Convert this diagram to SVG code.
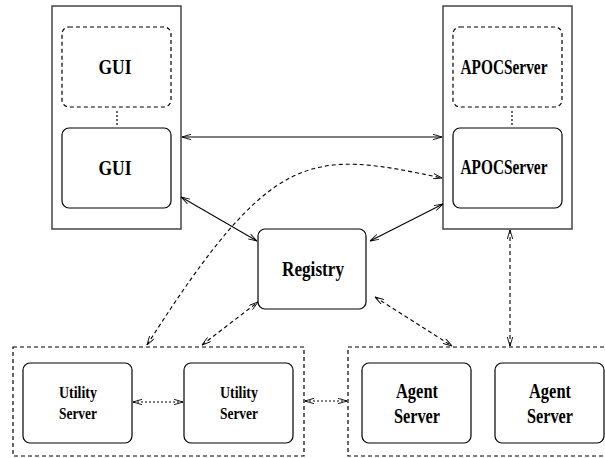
<svg xmlns="http://www.w3.org/2000/svg" width="605" height="458" viewBox="0 0 605 458">
<style>
.outer{fill:none;stroke:#444;stroke-width:1.5}
.box{fill:#fff;stroke:#000;stroke-width:1.2}
.dbox{fill:none;stroke:#000;stroke-width:1.2;stroke-dasharray:4,3}
.grp{fill:none;stroke:#000;stroke-width:1.2;stroke-dasharray:4,3}
.t{font-family:"Liberation Serif","Times New Roman",serif;font-weight:bold;font-size:20px;text-anchor:middle;fill:#000}
.ts{font-family:"Liberation Serif","Times New Roman",serif;font-weight:bold;font-size:16.5px;text-anchor:middle;fill:#000}
.c{fill:none;stroke:#000;stroke-width:1.1}
.dash{stroke-dasharray:4,3}
.dot{stroke-dasharray:2,2}
</style>
<defs>
<marker id="a" viewBox="0 0 10 6" refX="10" refY="3" markerWidth="9" markerHeight="6" markerUnits="userSpaceOnUse" orient="auto-start-reverse">
<path d="M0,0 L10,3 L0,6" fill="none" stroke="#000" stroke-width="1"/>
</marker>
</defs>
<g id="gui-container">
<rect class="outer" x="52" y="6" width="129" height="223"/>
<line x1="117" y1="111" x2="117" y2="127" stroke="#000" stroke-width="1.2" stroke-dasharray="2,2"/>
</g>
<g id="gui-1">
<rect class="dbox" x="62" y="27" width="109" height="80" rx="7"/>
<text class="t" x="115" y="74" textLength="33" lengthAdjust="spacingAndGlyphs">GUI</text>
</g>
<g id="gui-2">
<rect class="box" x="62" y="128" width="109" height="80" rx="7"/>
<text class="t" x="115" y="175" textLength="33" lengthAdjust="spacingAndGlyphs">GUI</text>
</g>
<g id="apoc-container">
<rect class="outer" x="443" y="6" width="129" height="223"/>
<line x1="512" y1="111" x2="512" y2="127" stroke="#000" stroke-width="1.2" stroke-dasharray="2,2"/>
</g>
<g id="apoc-1">
<rect class="dbox" x="453" y="27" width="109" height="80" rx="7"/>
<text class="t" x="504" y="74" textLength="87" lengthAdjust="spacingAndGlyphs">APOCServer</text>
</g>
<g id="apoc-2">
<rect class="box" x="453" y="128" width="109" height="80" rx="7"/>
<text class="t" x="504" y="174" textLength="87" lengthAdjust="spacingAndGlyphs">APOCServer</text>
</g>
<g id="registry">
<rect class="box" x="258" y="229" width="108" height="80" rx="7"/>
<text class="t" x="313" y="276" textLength="62" lengthAdjust="spacingAndGlyphs">Registry</text>
</g>
<g id="utility-group">
<rect class="grp" x="13" y="347" width="291" height="109"/>
</g>
<g id="utility-1">
<rect class="box" x="23" y="363" width="109" height="80" rx="7"/>
<text class="ts" x="78" y="398" textLength="38" lengthAdjust="spacingAndGlyphs">Utility</text>
<text class="ts" x="78" y="419" textLength="38" lengthAdjust="spacingAndGlyphs">Server</text>
</g>
<g id="utility-2">
<rect class="box" x="184" y="363" width="109" height="80" rx="7"/>
<text class="ts" x="239" y="398" textLength="38" lengthAdjust="spacingAndGlyphs">Utility</text>
<text class="ts" x="239" y="419" textLength="38" lengthAdjust="spacingAndGlyphs">Server</text>
</g>
<g id="agent-group">
<rect class="grp" x="348" y="347" width="262" height="109"/>
</g>
<g id="agent-1">
<rect class="box" x="362" y="363" width="109" height="80" rx="7"/>
<text class="t" x="417" y="398" textLength="42" lengthAdjust="spacingAndGlyphs">Agent</text>
<text class="t" x="417" y="423" textLength="46" lengthAdjust="spacingAndGlyphs">Server</text>
</g>
<g id="agent-2">
<rect class="box" x="495" y="363" width="109" height="80" rx="7"/>
<text class="t" x="550" y="398" textLength="42" lengthAdjust="spacingAndGlyphs">Agent</text>
<text class="t" x="550" y="423" textLength="46" lengthAdjust="spacingAndGlyphs">Server</text>
</g>
<g id="connectors">
<line class="c" x1="182" y1="137" x2="442" y2="137" marker-start="url(#a)" marker-end="url(#a)"/>
<line class="c" x1="181" y1="197" x2="257" y2="241" marker-start="url(#a)" marker-end="url(#a)"/>
<line class="c" x1="370" y1="241" x2="443" y2="204" marker-start="url(#a)" marker-end="url(#a)"/>
<path class="c dash" d="M147,345 C273,147 310,150 442,178" marker-start="url(#a)" marker-end="url(#a)"/>
<line class="c dash" x1="202" y1="345" x2="258" y2="302" marker-start="url(#a)" marker-end="url(#a)"/>
<line class="c dash" x1="375" y1="297" x2="452" y2="346" marker-start="url(#a)" marker-end="url(#a)"/>
<line class="c dash" x1="510" y1="230" x2="510" y2="346" marker-start="url(#a)" marker-end="url(#a)"/>
<line class="c dot" x1="133" y1="402" x2="183" y2="402" marker-start="url(#a)" marker-end="url(#a)"/>
<line class="c dot" x1="305" y1="401" x2="347" y2="401" marker-start="url(#a)" marker-end="url(#a)"/>
</g>
</svg>
